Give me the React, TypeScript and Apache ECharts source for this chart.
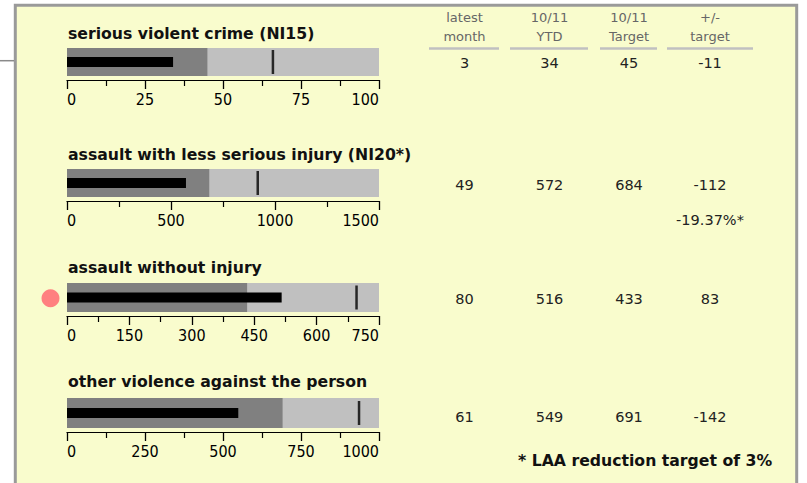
import React, { useEffect, useRef } from "react";
import * as echarts from "echarts";

// ---- data ----
const titles = [
  "serious violent crime (NI15)",
  "assault with less serious injury (NI20*)",
  "assault without injury",
  "other violence against the person",
];
const axisMax = [100, 1500, 750, 1000];
const axisInterval = [25, 500, 150, 250];
const targets = [45, 684, 433, 691];
const ytd = [34, 572, 516, 549];
const markers = [66, 917, 696, 936];
const latestMonth = [3, 49, 80, 61];
const notes = ["", "-19.37%*", "", ""];
const headers = ["latest\nmonth", "10/11\nYTD", "10/11\nTarget", "+/-\ntarget"];
const footnote = "* LAA reduction target of 3%";

// ---- layout ----
const bandTop = [48, 169, 283, 398];
const bandH = [28, 28, 29, 30];
const titleY = [33.3, 154.8, 267.8, 381.5];
const rowY = [62.5, 184.8, 298.8, 416.5];
const colX = [464.5, 549.5, 629, 710];
const ulines = [
  [429, 499],
  [510, 588],
  [600, 657],
  [667, 753],
];
const LEFT = 67;
const WIDTH = 312;

export default function App() {
  const ref = useRef<HTMLDivElement>(null);
  useEffect(() => {
    if (!ref.current) return;
    const chart = echarts.init(ref.current, null, { renderer: "svg" });

    const grids: any[] = [];
    const xAxes: any[] = [];
    const yAxes: any[] = [];
    const series: any[] = [];
    const graphics: any[] = [];

    graphics.push({
      type: "rect",
      z: -10,
      shape: { x: 15.3, y: 5.3, width: 781.4, height: 520 },
      style: { fill: "#F9FCCD", stroke: "#9A9A9A", lineWidth: 3 },
    });
    graphics.push({
      type: "line",
      z: -10,
      shape: { x1: 0, y1: 60.7, x2: 14, y2: 60.7 },
      style: { stroke: "#8A8A8A", lineWidth: 1.5 },
    });

    const labelFont =
      "'DejaVu Sans Condensed', 'Liberation Sans Narrow', 'Arial Narrow', sans-serif";

    titles.forEach((t, i) => {
      grids.push({ left: LEFT, width: WIDTH, top: bandTop[i], height: bandH[i] });
      xAxes.push({
        type: "value",
        gridIndex: i,
        min: 0,
        max: axisMax[i],
        interval: axisInterval[i],
        position: "bottom",
        offset: 4,
        axisLine: { show: true, lineStyle: { color: "#000", width: 1.2 } },
        axisTick: { show: true, length: 9, lineStyle: { color: "#000", width: 1.3 } },
        minorTick: { show: true, splitNumber: 2, length: 6, lineStyle: { color: "#000", width: 1.2 } },
        splitLine: { show: false },
        axisLabel: {
          color: "#000",
          fontFamily: labelFont,
          fontSize: 16,
          margin: 11.5,
          alignMinLabel: "left",
          alignMaxLabel: "right",
          formatter: (v: number) => String(v),
        },
      });
      yAxes.push({ type: "category", gridIndex: i, data: ["v"], show: false });
      yAxes.push({ type: "category", gridIndex: i, data: ["v"], show: false });
      const ya = 2 * i;
      const yb = 2 * i + 1;
      series.push({
        type: "bar",
        xAxisIndex: i,
        yAxisIndex: ya,
        data: [axisMax[i]],
        barWidth: bandH[i],
        barGap: "-100%",
        itemStyle: { color: "#C0C0C0" },
        silent: true,
      });
      series.push({
        type: "bar",
        xAxisIndex: i,
        yAxisIndex: ya,
        data: [targets[i]],
        barWidth: bandH[i],
        barGap: "-100%",
        itemStyle: { color: "#808080" },
        silent: true,
      });
      series.push({
        type: "bar",
        xAxisIndex: i,
        yAxisIndex: yb,
        data: [ytd[i]],
        barWidth: 10,
        itemStyle: { color: "#000" },
        z: 3,
        silent: true,
      });
      series.push({
        type: "scatter",
        xAxisIndex: i,
        yAxisIndex: ya,
        data: [[markers[i], 0]],
        symbol: "rect",
        symbolSize: [2.5, 24],
        itemStyle: { color: "#000" },
        z: 4,
        silent: true,
      });

      graphics.push({
        type: "text",
        x: 68,
        y: titleY[i],
        z: 10,
        style: {
          text: t,
          fill: "#111",
          font: "bold 15.7px 'DejaVu Sans', Verdana, sans-serif",
          verticalAlign: "middle",
          align: "left",
        },
      });

      const vals = [
        String(latestMonth[i]),
        String(ytd[i]),
        String(targets[i]),
        String(ytd[i] - targets[i]),
      ];
      vals.forEach((v, c) => {
        graphics.push({
          type: "text",
          x: colX[c],
          y: rowY[i],
          z: 10,
          style: {
            text: v,
            fill: "#222",
            font: "14.5px 'DejaVu Sans', Verdana, sans-serif",
            align: "center",
            verticalAlign: "middle",
          },
        });
      });
      if (notes[i]) {
        graphics.push({
          type: "text",
          x: colX[3],
          y: 220,
          z: 10,
          style: {
            text: notes[i],
            fill: "#222",
            font: "14.5px 'DejaVu Sans', Verdana, sans-serif",
            align: "center",
            verticalAlign: "middle",
          },
        });
      }
      if (ytd[i] > targets[i]) {
        graphics.push({
          type: "circle",
          z: 10,
          shape: { cx: 50.5, cy: bandTop[i] + bandH[i] / 2 + 0.7, r: 9 },
          style: { fill: "#FF8080" },
        });
      }
    });

    headers.forEach((h, c) => {
      const [l1, l2] = h.split("\n");
      [l1, l2].forEach((s, k) => {
        graphics.push({
          type: "text",
          x: colX[c],
          y: k === 0 ? 17.5 : 36.8,
          z: 10,
          style: {
            text: s,
            fill: "#666",
            font: "13px 'DejaVu Sans', Verdana, sans-serif",
            align: "center",
            verticalAlign: "middle",
          },
        });
      });
      graphics.push({
        type: "line",
        z: 10,
        shape: { x1: ulines[c][0], y1: 48.5, x2: ulines[c][1], y2: 48.5 },
        style: { stroke: "#C0C0C0", lineWidth: 2.5 },
      });
    });

    graphics.push({
      type: "text",
      x: 518,
      y: 460,
      z: 10,
      style: {
        text: footnote,
        fill: "#111",
        font: "bold 15.7px 'DejaVu Sans', Verdana, sans-serif",
        align: "left",
        verticalAlign: "middle",
      },
    });

    chart.setOption({
      animation: false,
      backgroundColor: "#FFFFFF",
      grid: grids,
      xAxis: xAxes,
      yAxis: yAxes,
      series,
      graphic: { elements: graphics },
    });
    return () => chart.dispose();
  }, []);
  return (
    <div
      ref={ref}
      style={{ position: "fixed", left: 0, top: 0, width: 807, height: 483 }}
    />
  );
}
